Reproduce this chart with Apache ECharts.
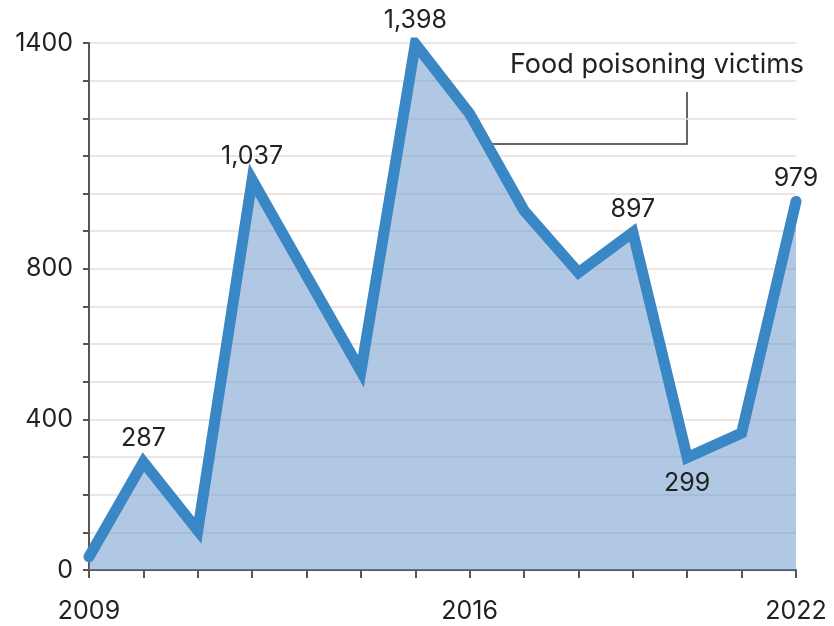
<!DOCTYPE html>
<html>
<head>
<meta charset="utf-8">
<script src="https://cdn.jsdelivr.net/npm/echarts@6/dist/echarts.min.js"></script>
<style>
  html, body { margin: 0; padding: 0; background: #fff; }
  #chart { width: 834px; height: 626px; }
</style>
</head>
<body>
<div id="chart"></div>
<script>
const years = ['2009', '2010', '2011', '2012', '2013', '2014', '2015',
  '2016', '2017', '2018', '2019', '2020', '2021', '2022'];
const victims = [35, 287, 105, 1037, 782, 528, 1398, 1212, 955, 790, 897, 299, 364, 979];
const labelledYears = ['2010', '2012', '2015', '2019', '2020', '2022'];
const belowYears = ['2020'];
const yTickLabels = [0, 400, 800, 1400];
const xTickLabels = ['2009', '2016', '2022'];
const seriesName = 'Food poisoning victims';

const FONT = 'Inter, sans-serif';
const chart = echarts.init(document.getElementById('chart'));

// labels on a line series hang off the symbols, so keep a tiny one
const seriesData = victims.map((v, i) => {
  const yr = years[i];
  if (!labelledYears.includes(yr)) return v;
  return {
    value: v,
    label: {
      show: true,
      position: belowYears.includes(yr) ? 'bottom' : 'top',
      distance: belowYears.includes(yr) ? 13 : 10
    }
  };
});

chart.setOption({
  animation: false,
  grid: { left: 89, right: 38, top: 43, bottom: 56, containLabel: false },
  xAxis: {
    type: 'category',
    data: years,
    boundaryGap: false,
    axisLine: { lineStyle: { color: '#5a5552', width: 2 } },
    axisTick: { show: true, interval: 0, length: 8, lineStyle: { color: '#5a5552', width: 2 } },
    axisLabel: {
      interval: (i, v) => xTickLabels.includes(v),
      margin: 29,
      color: '#222',
      fontSize: 25,
      fontFamily: FONT
    },
    splitLine: { show: false }
  },
  yAxis: {
    type: 'value',
    min: 0,
    max: 1400,
    interval: 100,
    axisLine: { show: true, lineStyle: { color: '#5a5552', width: 2 } },
    axisTick: { show: true, length: 6, lineStyle: { color: '#5a5552', width: 2 } },
    axisLabel: {
      formatter: v => (yTickLabels.includes(v) ? String(v) : ''),
      margin: 16,
      color: '#222',
      fontSize: 25,
      fontFamily: FONT
    },
    splitLine: { lineStyle: { color: '#e4dedd', width: 1.5 } }
  },
  series: [{
    name: seriesName,
    type: 'line',
    data: seriesData,
    symbol: 'circle',
    symbolSize: 1,
    showSymbol: true,
    itemStyle: { color: '#3a87c5' },
    lineStyle: { color: '#3a87c5', width: 11, cap: 'round', join: 'miter' },
    areaStyle: { color: 'rgba(100, 145, 203, 0.5)', opacity: 1, origin: 'start' },
    label: {
      color: '#222',
      fontSize: 25,
      fontFamily: FONT,
      formatter: p => p.value.toLocaleString('en-US')
    },
    z: 3
  }],
  graphic: [
    {
      type: 'text',
      left: 510,
      top: 51,
      style: { text: seriesName, fontSize: 27, fontFamily: FONT, fill: '#222' }
    },
    {
      type: 'polyline',
      shape: { points: [[486, 144], [687, 144], [687, 92]] },
      style: { stroke: '#333', lineWidth: 1.5, fill: null }
    }
  ]
});
</script>
</body>
</html>
